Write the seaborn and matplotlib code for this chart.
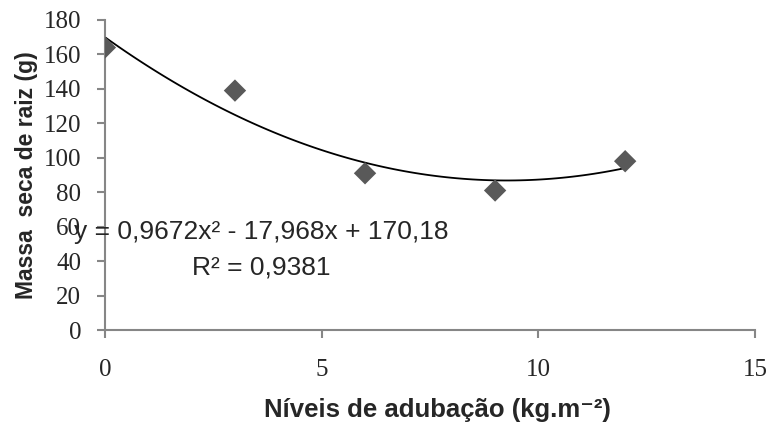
import matplotlib
matplotlib.use("Agg")
import matplotlib.pyplot as plt
import seaborn as sns
import pandas as pd

# Data
niveis = [0, 3, 6, 9, 12]
massa = [164, 139, 91, 81, 98]
equacao = "y = 0,9672x² - 17,968x + 170,18"
r2 = "R² = 0,9381"
x_ticks = [0, 5, 10, 15]
y_ticks = [0, 20, 40, 60, 80, 100, 120, 140, 160, 180]

df = pd.DataFrame({"nivel": niveis, "massa": massa})

sns.set_style("white")
gray = "#868686"

fig = plt.figure(figsize=(7.77, 4.25), dpi=100)
ax = fig.add_axes([0.135, 0.2235, 0.837, 0.7295])

# points + quadratic trendline
sns.regplot(data=df, x="nivel", y="massa", order=2, ci=None, ax=ax,
            marker="D",
            scatter_kws={"s": 130, "color": "#595959", "alpha": 1,
                         "edgecolor": "none", "zorder": 3},
            line_kws={"color": "black", "lw": 1.3, "zorder": 2})

ax.set_xlim(0, 15)
ax.set_ylim(0, 180)
ax.set_xticks(x_ticks)
ax.set_yticks(y_ticks)
ax.set_xticklabels([str(t) for t in x_ticks], fontfamily="Liberation Serif", fontsize=18)
ax.set_yticklabels([str(t) for t in y_ticks], fontfamily="Liberation Serif", fontsize=18)

# Tidy axes
for s in ["top", "right"]:
    ax.spines[s].set_visible(False)
for s in ["left", "bottom"]:
    ax.spines[s].set_color(gray)
    ax.spines[s].set_linewidth(1.5)
ax.tick_params(axis="both", direction="out", length=6, width=1.5, color=gray,
               left=True, bottom=True)
ax.tick_params(axis="x", pad=15)
ax.tick_params(axis="y", pad=11)

ax.set_xlabel("Níveis de adubação (kg.m⁻²)", fontsize=18.5, fontweight="bold",
              family=["Liberation Sans", "DejaVu Sans"], va="center")
ax.xaxis.set_label_coords(0.511, -0.258)
ax.set_ylabel("Massa  seca de raiz (g)", fontsize=16.5, fontweight="bold",
              family=["Liberation Sans", "DejaVu Sans"], labelpad=4)

# Equation label
fig.text(261 / 777, 1 - 232 / 425, equacao, ha="center", va="center",
         fontsize=19, family="Liberation Sans")
fig.text(261 / 777, 1 - 268 / 425, r2, ha="center", va="center",
         fontsize=19, family="Liberation Sans")

fig.savefig("out.png", dpi=100)
